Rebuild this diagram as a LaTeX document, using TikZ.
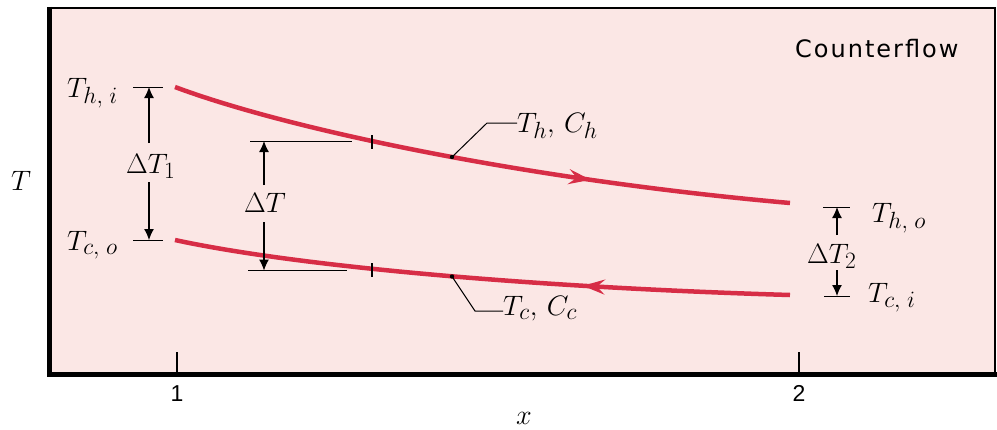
\documentclass[tikz,border=0pt]{standalone}
\usepackage{fontspec}
\newfontfamily\sansf{Liberation Sans}
\newfontfamily\dejavu[LetterSpace=8.3]{DejaVu Sans}
\usetikzlibrary{arrows.meta,decorations.markings}
\definecolor{bgpink}{RGB}{251,231,229}
\definecolor{curvered}{RGB}{215,45,70}
\begin{document}
\begin{tikzpicture}[x=1pt,y=-1pt,
  lbl/.style={font=\fontsize{24.88}{30}\selectfont, inner sep=0pt, anchor=base west, scale=1.13, transform shape},
  ticklbl/.style={font=\sansf\fontsize{23}{27}\selectfont, inner sep=0pt, anchor=base},
  dimline/.style={line width=1pt},
  dimarrow/.style={line width=1.2pt,-{Latex[length=11pt,width=10pt]}},
  leader/.style={line width=1pt},
  flow/.style={line width=4.5pt, curvered},
  curvetick/.style={line width=1.6pt},
]
\useasboundingbox (0,0) rectangle (997,429);
% frame
\fill[bgpink] (50,8) rectangle (995,374);
\draw[line width=2.5pt] (50,8) -- (995,8) -- (995,374);
\draw[line width=5pt] (49.5,6.75) -- (49.5,374.5) -- (997,374.5);

% axis ticks and labels
\coordinate (t1a) at (177,352); \coordinate (t1b) at (177,372);
\coordinate (t2a) at (799,352); \coordinate (t2b) at (799,372);
\draw[line width=1.2pt] (t1a) -- (t1b);
\draw[line width=1.2pt] (t2a) -- (t2b);
\node[ticklbl] (one) at (177,401) {1};
\node[ticklbl] (two) at (799,401) {2};
\node[lbl] (xlab) at (516,424) {$x$};
\node[lbl] (Tlab) at (11,190) {$T$};
\node[font=\dejavu\fontsize{24}{28}\selectfont, inner sep=0pt, anchor=base west] (cf) at (795,57) {Counterflow};

% hot curve
\coordinate (hs) at (175,87);
\coordinate (he) at (790,203);
\draw[flow, postaction={decorate},
  decoration={markings, mark=at position 0.68 with {\arrow[curvered]{Stealth[length=22pt,width=15pt,inset=8pt]}}}]
  (hs) .. controls (290,130) and (530,180) .. (he);
% cold curve
\coordinate (cs) at (175,240);
\coordinate (ce) at (790,295);
\draw[flow, postaction={decorate},
  decoration={markings, mark=at position 0.70 with {\arrow[curvered]{Stealth[length=22pt,width=15pt,inset=8pt,reversed]}}}]
  (cs) .. controls (290,265) and (520,287) .. (ce);

% ticks on curves
\draw[curvetick] (372,135) -- (372,149);
\draw[curvetick] (372,263) -- (372,277);

% dots and leaders
\coordinate (hdot) at (452,157);
\coordinate (cdot) at (452,276.5);
\fill (hdot) circle (2.2pt);
\fill (cdot) circle (2.2pt);
\node[lbl] (ThCh) at (517,132) {$T_h,\,C_h$};
\node[lbl] (TcCc) at (503,315) {$T_c,\,C_c$};
\coordinate (hbend) at (487,123);
\coordinate (cbend) at (475,311);
\draw[leader] (hdot) -- (hbend) -- (ThCh.west |- hbend);
\draw[leader] (cdot) -- (cbend) -- (TcCc.west |- cbend);

% end labels
\node[lbl] (Thi) at (67,97) {$T_{h,\;i}$};
\node[lbl] (Tco) at (67,250) {$T_{c,\;o}$};
\node[lbl] (Tho) at (872,222) {$T_{h,\;o}$};
\node[lbl] (Tci) at (868,302) {$T_{c,\;i}$};

% Delta T1
\coordinate (d1tl) at (133,87); \coordinate (d1tr) at (163,87);
\coordinate (d1bl) at (133,240); \coordinate (d1br) at (163,240);
\draw[dimline] (d1tl) -- (d1tr);
\draw[dimline] (d1bl) -- (d1br);
\node[lbl] (dT1) at (126,173) {$\Delta T_1$};
\coordinate (a1t) at (149,87); \coordinate (a1ts) at (149,143);
\coordinate (a1b) at (149,240); \coordinate (a1bs) at (149,182);
\draw[dimarrow] (a1ts) -- (a1t);
\draw[dimarrow] (a1bs) -- (a1b);

% Delta T
\coordinate (dtl) at (250,141); \coordinate (dtr) at (352,141);
\coordinate (dbl) at (248,270.5); \coordinate (dbr) at (347,270.5);
\draw[dimline] (dtl) -- (dtr);
\draw[dimline] (dbl) -- (dbr);
\node[lbl] (dT) at (244,212) {$\Delta T$};
\coordinate (at) at (264,141); \coordinate (ats) at (264,185);
\coordinate (ab) at (264,270.5); \coordinate (abs) at (264,222);
\draw[dimarrow] (ats) -- (at);
\draw[dimarrow] (abs) -- (ab);

% Delta T2
\coordinate (d2tl) at (823,207); \coordinate (d2tr) at (850,207);
\coordinate (d2bl) at (824,296); \coordinate (d2br) at (850,296);
\draw[dimline] (d2tl) -- (d2tr);
\draw[dimline] (d2bl) -- (d2br);
\node[lbl] (dT2) at (807,263) {$\Delta T_2$};
\coordinate (a2t) at (837,207); \coordinate (a2ts) at (837,235);
\coordinate (a2b) at (837,296); \coordinate (a2bs) at (837,270);
\draw[dimarrow] (a2ts) -- (a2t);
\draw[dimarrow] (a2bs) -- (a2b);
\end{tikzpicture}
\end{document}
